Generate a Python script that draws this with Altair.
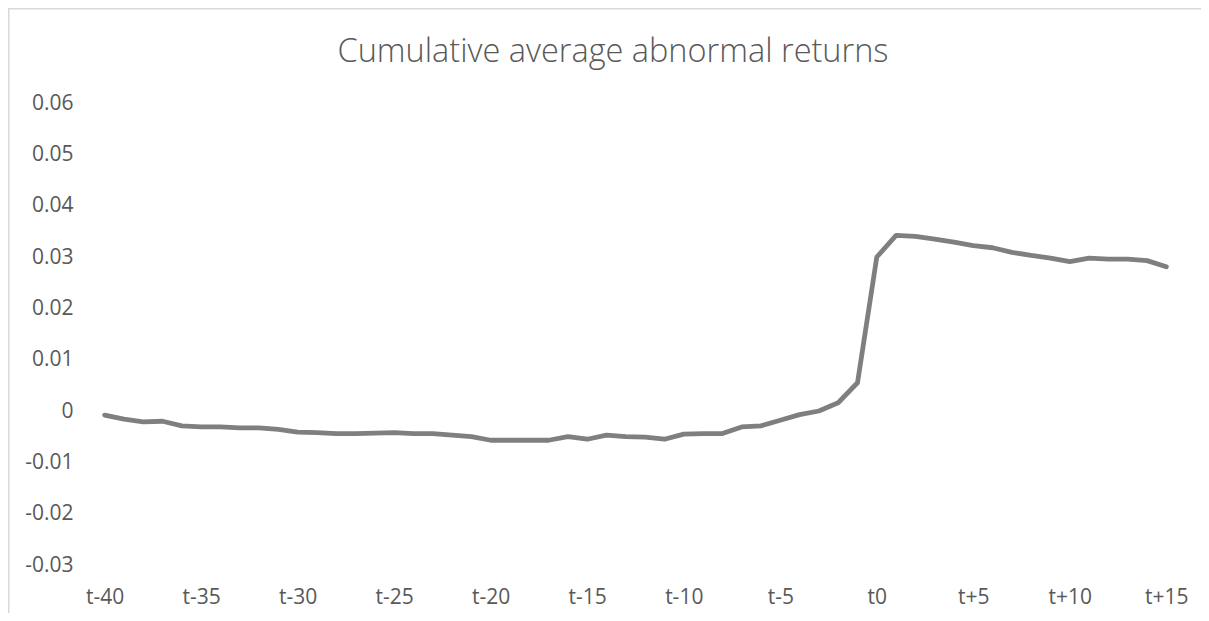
import altair as alt
import pandas as pd

labels = ([f"t{i}" for i in range(-40, 0)] + ["t0"] + [f"t+{i}" for i in range(1, 16)])
values = [
    -0.0008, -0.0016, -0.0021, -0.0020, -0.0029, -0.0031, -0.0031, -0.0033,
    -0.0033, -0.0036, -0.0041, -0.0042, -0.0044, -0.0044, -0.0043, -0.0042,
    -0.0044, -0.0044, -0.0047, -0.0050, -0.0057, -0.0057, -0.0057, -0.0057,
    -0.0050, -0.0055, -0.0047, -0.0050, -0.0051, -0.0055, -0.0045, -0.0044,
    -0.0044, -0.0031, -0.0029, -0.0018, -0.0007, 0.0000, 0.0016, 0.0055,
    0.0300, 0.0342, 0.0340, 0.0335, 0.0329, 0.0322, 0.0318, 0.0309,
    0.0303, 0.0298, 0.0291, 0.0298, 0.0296, 0.0296, 0.0293, 0.0281,
]
tick_labels = ["t-40", "t-35", "t-30", "t-25", "t-20", "t-15", "t-10",
               "t-5", "t0", "t+5", "t+10", "t+15"]
y_ticks = [-0.03, -0.02, -0.01, 0, 0.01, 0.02, 0.03, 0.04, 0.05, 0.06]
title_text = "Cumulative average abnormal returns"

df = pd.DataFrame({"t": labels, "car": values})

FONT = "Open Sans"
TEXT = "#595959"

line = alt.Chart(df).mark_line(color="#7f7f7f", strokeWidth=4.8, strokeCap="round", strokeJoin="round").encode(
    x=alt.X("t:N", sort=labels, title=None,
            scale=alt.Scale(type="point", padding=0.5),
            axis=alt.Axis(values=tick_labels, labelAngle=0, domain=False, ticks=False,
                          grid=False, labelFont=FONT, labelFontSize=21, labelColor=TEXT,
                          labelPadding=21)),
    y=alt.Y("car:Q", title=None,
            scale=alt.Scale(domain=[-0.03, 0.06], nice=False, zero=False),
            axis=alt.Axis(values=y_ticks, labelExpr="'' + datum.value", domain=False,
                          ticks=False, grid=False,
                          labelFont=FONT, labelFontSize=21, labelColor=TEXT,
                          labelPadding=22)),
)

frame_df = pd.DataFrame({"k": [0]})
border = alt.Chart(frame_df).mark_rect(
    fill=None, stroke="#d9d9d9", strokeWidth=1.5
).encode(
    x=alt.value(-86.25), x2=alt.value(1081 + 40), y=alt.value(-94.25), y2=alt.value(462 + 60)
)

title = alt.Chart(pd.DataFrame({"title": [title_text]})).mark_text(
    font=FONT, fontSize=32.5, fontWeight=300, color=TEXT, align="center", baseline="alphabetic"
).encode(
    text="title:N", x=alt.value(518), y=alt.value(-41)
)

chart = alt.layer(border, line, title).properties(
    width=1081, height=462,
    autosize=alt.AutoSizeParams(type="none"),
    padding={"left": 87, "top": 95, "right": 25, "bottom": 48},
).configure_view(stroke=None)

chart.save("out.html", embed_options={"renderer": "svg", "actions": False})
